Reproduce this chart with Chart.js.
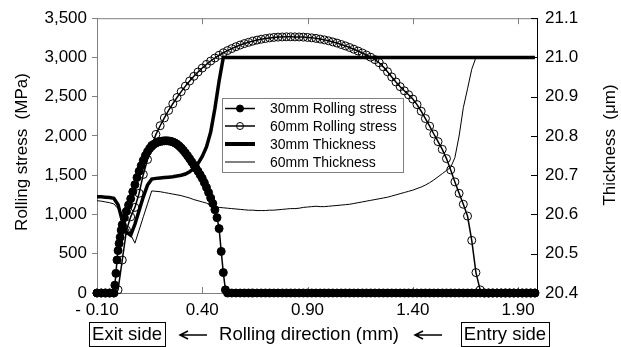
<!DOCTYPE html>
<html><head><meta charset="utf-8">
<script src="https://cdn.jsdelivr.net/npm/chart.js@4.4.1/dist/chart.umd.min.js"></script>
<style>html,body{margin:0;padding:0;background:#fff;}canvas{display:block;}</style>
</head><body>
<canvas id="c" width="621" height="347"></canvas>
<script>
// ---------- DATA ----------
const seriesNames = ['30mm Rolling stress', '60mm Rolling stress', '30mm Thickness', '60mm Thickness'];
const xTickValues = [-0.10, 0.40, 0.90, 1.40, 1.90];
const xTickLabels = ['- 0.10', '0.40', '0.90', '1.40', '1.90'];

// positions along rolling direction (mm) shared by 60mm stress and both thickness curves
const posMm = [
 -0.10,-0.08,-0.06,-0.04,-0.02,0.00,0.02,0.04,0.06,0.08,
 0.10,0.12,0.14,0.16,0.18,0.20,0.22,0.24,0.26,0.28,
 0.30,0.32,0.34,0.36,0.38,0.40,0.42,0.44,0.46,0.48,
 0.50,0.52,0.54,0.56,0.58,0.60,0.62,0.64,0.66,0.68,
 0.70,0.72,0.74,0.76,0.78,0.80,0.82,0.84,0.86,0.88,
 0.90,0.92,0.94,0.96,0.98,1.00,1.02,1.04,1.06,1.08,
 1.10,1.12,1.14,1.16,1.18,1.20,1.22,1.24,1.26,1.28,
 1.30,1.32,1.34,1.36,1.38,1.40,1.42,1.44,1.46,1.48,
 1.50,1.52,1.54,1.56,1.58,1.60,1.62,1.64,1.66,1.68,
 1.70,1.72,1.74,1.76,1.78,1.80,1.82,1.84,1.86,1.88,
 1.90,1.92,1.94,1.96,1.98];

// 30mm rolling stress positions (finer in the contact zone)
const stress30Pos = [
 -0.10,-0.08,-0.06,-0.04,-0.02,-0.015,-0.01,-0.005,0.00,0.005,0.01,0.015,0.02,
 0.03,0.04,0.05,0.06,0.07,0.08,0.09,0.10,0.11,0.12,
 0.13,0.14,0.15,0.16,0.17,0.18,0.19,0.20,0.21,0.22,
 0.23,0.24,0.25,0.26,0.27,0.28,0.29,0.30,0.31,0.32,
 0.33,0.34,0.35,0.36,0.37,0.38,0.39,0.40,0.41,0.42,
 0.43,0.44,0.45,0.46,0.47,0.48,0.49,0.50,0.51,0.52,
 0.54,0.56,0.58,0.60,0.62,0.64,0.66,0.68,
 0.70,0.72,0.74,0.76,0.78,0.80,0.82,0.84,0.86,0.88,
 0.90,0.92,0.94,0.96,0.98,1.00,1.02,1.04,1.06,1.08,
 1.10,1.12,1.14,1.16,1.18,1.20,1.22,1.24,1.26,1.28,
 1.30,1.32,1.34,1.36,1.38,1.40,1.42,1.44,1.46,1.48,
 1.50,1.52,1.54,1.56,1.58,1.60,1.62,1.64,1.66,1.68,
 1.70,1.72,1.74,1.76,1.78,1.80,1.82,1.84,1.86,1.88,
 1.90,1.92,1.94,1.96,1.98];

// 30mm rolling stress (MPa)
const stress30 = [
 0,0,0,0,0,100,250,420,540,630,710,800,870,
 960,1040,1120,1200,1290,1380,1470,1550,1620,1690,
 1750,1800,1840,1870,1893,1910,1922,1930,1935,1938,
 1939,1937,1932,1924,1912,1895,1873,1847,1817,1784,
 1748,1710,1670,1630,1590,1550,1505,1460,1405,1345,
 1280,1210,1140,1060,960,820,530,260,40,0,
 0,0,0,0,0,0,0,0,
 0,0,0,0,0,0,0,0,0,0,
 0,0,0,0,0,0,0,0,0,0,
 0,0,0,0,0,0,0,0,0,0,
 0,0,0,0,0,0,0,0,0,0,
 0,0,0,0,0,0,0,0,0,0,
 0,0,0,0,0,0,0,0,0,0,
 0,0,0,0,0];

// 60mm rolling stress (MPa)
const stress60 = [
 0,0,0,0,0,40,420,800,970,1090,
 1270,1510,1700,1880,2020,2130,2230,2325,2410,2490,
 2565,2635,2700,2760,2815,2865,2912,2955,2993,3028,
 3060,3088,3113,3137,3158,3177,3193,3208,3221,3232,
 3241,3249,3255,3259,3261,3263,3263,3262,3261,3259,
 3255,3250,3243,3234,3224,3212,3198,3183,3165,3147,
 3127,3105,3082,3057,3031,3003,2972,2933,2880,2818,
 2752,2688,2628,2575,2525,2470,2400,2315,2222,2125,
 2025,1928,1830,1712,1568,1415,1270,1130,980,670,
 260,40,0,0,0,0,0,0,0,0,
 0,0,0,0,0];

// 30mm thickness (µm)
const thick30 = [
 20.645,20.645,20.644,20.643,20.641,20.625,20.585,20.555,20.547,20.575,
 20.610,20.645,20.675,20.690,20.692,20.693,20.694,20.695,20.696,20.698,
 20.700,20.703,20.709,20.717,20.730,20.748,20.772,20.810,20.870,20.940,
 21.0,21.0,21.0,21.0,21.0,21.0,21.0,21.0,21.0,21.0,
 21.0,21.0,21.0,21.0,21.0,21.0,21.0,21.0,21.0,21.0,
 21.0,21.0,21.0,21.0,21.0,21.0,21.0,21.0,21.0,21.0,
 21.0,21.0,21.0,21.0,21.0,21.0,21.0,21.0,21.0,21.0,
 21.0,21.0,21.0,21.0,21.0,21.0,21.0,21.0,21.0,21.0,
 21.0,21.0,21.0,21.0,21.0,21.0,21.0,21.0,21.0,21.0,
 21.0,21.0,21.0,21.0,21.0,21.0,21.0,21.0,21.0,21.0,
 21.0,21.0,21.0,21.0,21.0];

// 60mm thickness (µm)
const thick60 = [
 20.635,20.634,20.632,20.630,20.627,20.615,20.593,20.571,20.549,20.527,
 20.560,20.594,20.627,20.660,20.659,20.658,20.656,20.654,20.652,20.650,
 20.648,20.645,20.642,20.638,20.635,20.632,20.629,20.623,20.620,20.618,
 20.617,20.616,20.615,20.614,20.613,20.612,20.611,20.611,20.610,20.610,
 20.610,20.611,20.611,20.612,20.613,20.614,20.615,20.615,20.616,20.618,
 20.619,20.620,20.621,20.620,20.620,20.621,20.622,20.623,20.624,20.625,
 20.626,20.628,20.630,20.632,20.634,20.636,20.638,20.640,20.642,20.644,
 20.647,20.650,20.653,20.656,20.659,20.662,20.666,20.670,20.675,20.681,
 20.688,20.696,20.704,20.712,20.720,20.745,20.800,20.872,20.920,20.970,
 21.0,21.0,21.0,21.0,21.0,21.0,21.0,21.0,21.0,21.0,
 21.0,21.0,21.0,21.0,21.0];

// ---------- CHART ----------
const FONT = "'Liberation Sans', Arial, Helvetica, sans-serif";
const GRAY = '#808080';
const pts = (xs, ys) => xs.map((x, i) => ({x: x, y: ys[i]}));

function drawArrow(ctx, x1, x2, y) {
  ctx.beginPath();
  ctx.moveTo(x1, y); ctx.lineTo(x2, y);
  ctx.moveTo(x1 + 8, y - 4); ctx.lineTo(x1, y); ctx.lineTo(x1 + 8, y + 4);
  ctx.stroke();
}

const decor = {
  id: 'decor',
  beforeDatasetsDraw(chart) {
    const {ctx, chartArea: a, scales} = chart;
    const x = scales.x, y1 = scales.y1;
    ctx.save();
    ctx.lineWidth = 1;
    ctx.strokeStyle = GRAY;
    ctx.beginPath();
    ctx.moveTo(a.left, a.top + 0.5); ctx.lineTo(a.right, a.top + 0.5);
    x.ticks.forEach(t => {
      const px = Math.round(x.getPixelForValue(t.value)) + 0.5;
      ctx.moveTo(px, a.top); ctx.lineTo(px, a.top + 6);
      ctx.moveTo(px, a.bottom); ctx.lineTo(px, a.bottom - 6);
    });
    ctx.stroke();
    ctx.strokeStyle = '#000';
    ctx.beginPath();
    y1.ticks.forEach(t => {
      const py = Math.round(y1.getPixelForValue(t.value)) + 0.5;
      ctx.moveTo(a.right, py); ctx.lineTo(a.right - 6, py);
    });
    ctx.stroke();
    ctx.restore();
  },
  afterDatasetsDraw(chart) {
    const ctx = chart.ctx;
    ctx.save();
    // legend
    const bx = 222, by = 98, bw = 181, bh = 74;
    ctx.fillStyle = '#fff';
    ctx.fillRect(bx, by, bw, bh);
    ctx.strokeStyle = GRAY; ctx.lineWidth = 1;
    ctx.strokeRect(bx + 0.5, by + 0.5, bw, bh);
    const rows = [108.5, 126, 144, 162];
    ctx.font = '14px ' + FONT;
    ctx.textBaseline = 'middle';
    ctx.textAlign = 'left';
    rows.forEach((ry, i) => {
      ctx.strokeStyle = '#000';
      ctx.lineWidth = i === 2 ? 4 : (i === 3 ? 1 : 1.5);
      ctx.beginPath(); ctx.moveTo(225, ry); ctx.lineTo(255, ry); ctx.stroke();
      if (i < 2) {
        ctx.lineWidth = 1;
        ctx.beginPath(); ctx.arc(240, ry, 3.5, 0, Math.PI * 2);
        if (i === 0) { ctx.fillStyle = '#000'; ctx.fill(); }
        ctx.stroke();
      }
      ctx.fillStyle = '#000';
      ctx.fillText(seriesNames[i], 270, ry + 1);
    });
    ctx.restore();
  },
  afterDraw(chart) {
    const ctx = chart.ctx;
    ctx.save();
    ctx.fillStyle = '#000';
    ctx.font = '17px ' + FONT;
    ctx.textAlign = 'center';
    ctx.textBaseline = 'middle';
    // left axis title
    ctx.save(); ctx.translate(22, 152); ctx.rotate(-Math.PI / 2);
    ctx.fillText('Rolling stress  (MPa)', 0, 0); ctx.restore();
    // right axis title
    ctx.save(); ctx.translate(610, 145); ctx.rotate(-Math.PI / 2);
    ctx.fillText('Thickness  (\u03BCm)', 0, 0); ctx.restore();
    // bottom line
    ctx.font = '18.5px ' + FONT;
    const yb = 335;
    ctx.fillText('Rolling direction (mm)', 309, yb);
    const boxes = [['Exit side', 127], ['Entry side', 505]];
    boxes.forEach(([t, cx]) => {
      ctx.fillText(t, cx, yb);
      const w = ctx.measureText(t).width + 6;
      ctx.strokeStyle = '#000'; ctx.lineWidth = 1;
      ctx.strokeRect(Math.round(cx - w / 2) + 0.5, 322.5, Math.round(w), 24);
    });
    ctx.lineWidth = 1.5;
    drawArrow(ctx, 180, 207, yb);
    drawArrow(ctx, 415, 442, yb);
    ctx.restore();
  }
};

Chart.defaults.font.family = FONT;
Chart.defaults.font.size = 17;
Chart.defaults.color = '#000';

new Chart(document.getElementById('c'), {
  type: 'line',
  data: {
    datasets: [
      { label: seriesNames[0], data: pts(stress30Pos, stress30), yAxisID: 'y', order: 0,
        borderColor: '#000', borderWidth: 1.5, pointRadius: 4, pointBorderWidth: 1,
        pointBackgroundColor: '#000', pointBorderColor: '#000', clip: false },
      { label: seriesNames[1], data: pts(posMm, stress60), yAxisID: 'y', order: 1,
        borderColor: '#000', borderWidth: 1.5, pointRadius: 4, pointBorderWidth: 1,
        pointBackgroundColor: 'rgba(0,0,0,0)', pointBorderColor: '#000', clip: false },
      { label: seriesNames[2], data: pts(posMm, thick30), yAxisID: 'y1', order: 2,
        borderColor: '#000', borderWidth: 3.5, pointRadius: 0 },
      { label: seriesNames[3], data: pts(posMm, thick60), yAxisID: 'y1', order: 3,
        borderColor: '#000', borderWidth: 1, pointRadius: 0 }
    ]
  },
  options: {
    responsive: false, animation: false, devicePixelRatio: 1,
    layout: { padding: { top: 16, left: 0, right: 0, bottom: 0 } },
    elements: { line: { tension: 0 } },
    plugins: { legend: { display: false }, tooltip: { enabled: false }, title: { display: false } },
    scales: {
      x: {
        type: 'linear', position: 'bottom', min: -0.10, max: 1.99,
        afterBuildTicks: s => { s.ticks = xTickValues.map(v => ({ value: v })); },
        afterFit: s => { s.height = 54; },
        ticks: { padding: 7, maxRotation: 0, autoSkip: false, font: { size: 17 },
                 callback: (v, i) => xTickLabels[i] },
        grid: { display: true, drawOnChartArea: false, drawTicks: false, color: GRAY },
        border: { display: true, color: GRAY, width: 1 }
      },
      y: {
        position: 'left', min: 0, max: 3500,
        afterFit: s => { s.width = 97; },
        ticks: { stepSize: 500, padding: 5, font: { size: 17 },
                 callback: v => Number(v).toLocaleString('en-US') },
        grid: { display: true, drawOnChartArea: false, drawTicks: true, tickLength: 5, color: GRAY },
        border: { display: true, color: GRAY, width: 1 }
      },
      y1: {
        position: 'right', min: 20.4, max: 21.1,
        afterFit: s => { s.width = 84; },
        ticks: { stepSize: 0.1, padding: 8, font: { size: 17 },
                 callback: v => Number(v).toFixed(1) },
        grid: { display: true, drawOnChartArea: false, drawTicks: false, color: '#000' },
        border: { display: true, color: '#000', width: 1 }
      }
    }
  },
  plugins: [decor]
});
</script>
</body></html>
